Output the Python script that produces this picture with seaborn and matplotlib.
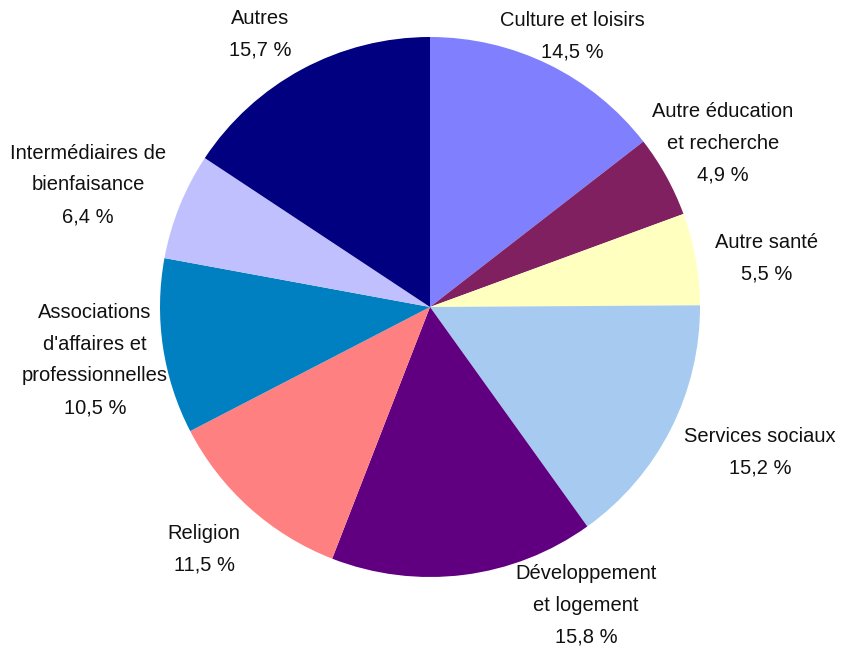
import matplotlib
matplotlib.use("Agg")
import matplotlib.pyplot as plt
import seaborn as sns
import numpy as np

sns.set_theme(style="white")
plt.rcParams['font.family'] = ['Liberation Sans', 'DejaVu Sans']

categories = ["Culture et loisirs", "Autre éducation\net recherche", "Autre santé",
              "Services sociaux", "Développement\net logement", "Religion",
              "Associations\nd'affaires et\nprofessionnelles", "Intermédiaires de\nbienfaisance",
              "Autres"]
values = [14.5, 4.9, 5.5, 15.2, 15.8, 11.5, 10.5, 6.4, 15.7]
value_labels = ["14,5 %", "4,9 %", "5,5 %", "15,2 %", "15,8 %", "11,5 %", "10,5 %", "6,4 %", "15,7 %"]
colors = ["#8080FF", "#802060", "#FFFFC0", "#A6CAF0", "#600080", "#FF8080",
          "#0080C0", "#C0C0FF", "#000080"]

# label positions (in pie radius units) relative to centre
label_pos = [(0.526, 1.004), (1.085, 0.607), (1.248, 0.181), (1.222, -0.537),
             (0.578, -1.104), (-0.837, -0.896), (-1.241, -0.196), (-1.267, 0.452),
             (-0.63, 1.011)]

fig = plt.figure(figsize=(8.41, 6.48), dpi=100)
ax = fig.add_axes([0, 0, 1, 1])
wedges, _ = ax.pie(values, colors=colors, startangle=90, counterclock=False,
                   radius=1.0, wedgeprops=dict(linewidth=0))
s = 270.0
ax.set_xlim(-430 / s, 411 / s)
ax.set_ylim(-341 / s, 307 / s)
ax.set_aspect('equal')
ax.axis('off')

for cat, vl, (x, y) in zip(categories, value_labels, label_pos):
    ax.text(x, y, cat + "\n" + vl, ha='center', va='center', fontsize=14.5,
            linespacing=1.85, color='#111111')

fig.savefig("out.png", dpi=100)
